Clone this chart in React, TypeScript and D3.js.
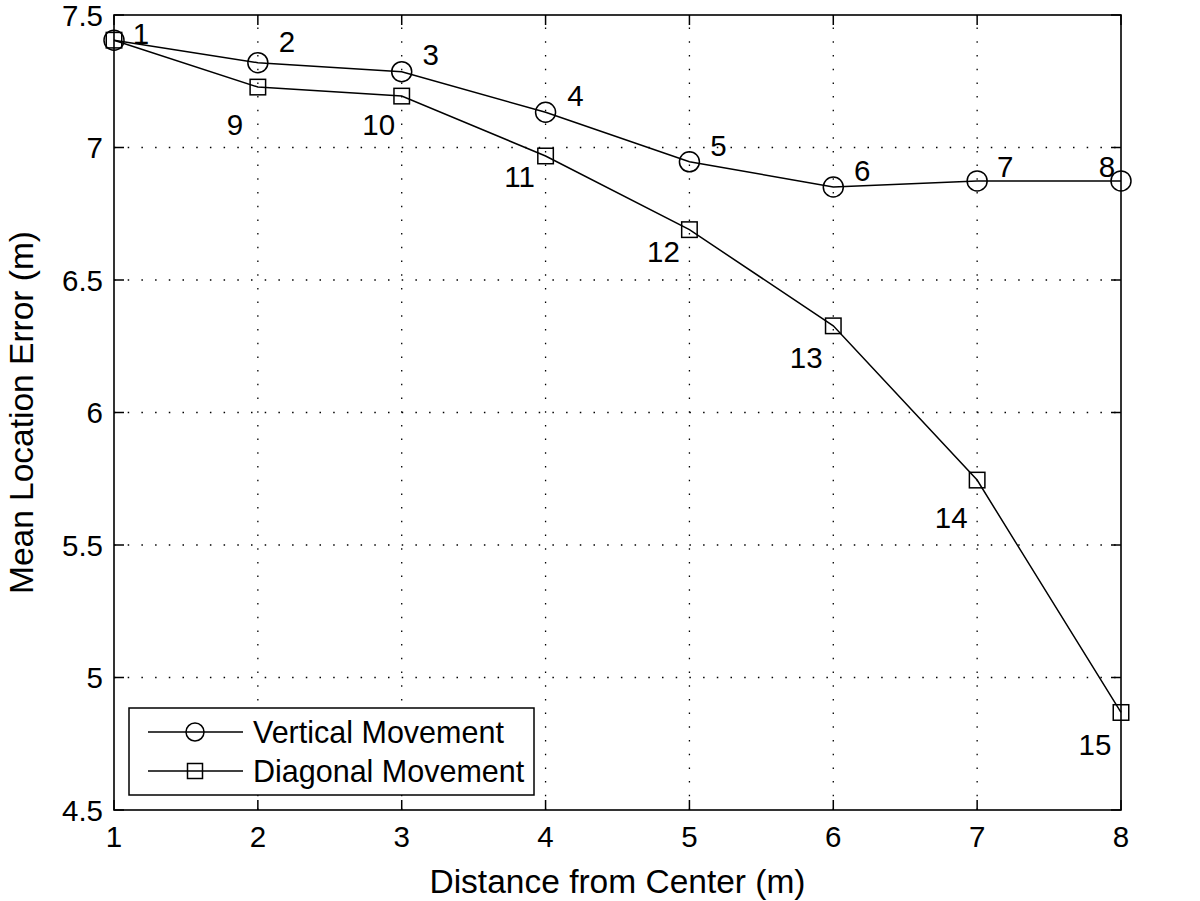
import React from "react";
import * as d3 from "d3";

const distances = [1, 2, 3, 4, 5, 6, 7, 8];
const verticalValues = [7.405, 7.32, 7.286, 7.133, 6.946, 6.851, 6.874, 6.874];
const diagonalValues = [7.405, 7.228, 7.194, 6.968, 6.69, 6.327, 5.745, 4.868];
const verticalLabels = ["1", "2", "3", "4", "5", "6", "7", "8"];
const diagonalLabels = ["", "9", "10", "11", "12", "13", "14", "15"];
const xTicks = [1, 2, 3, 4, 5, 6, 7, 8];
const yTicks = [4.5, 5, 5.5, 6, 6.5, 7, 7.5];
const seriesNames = ["Vertical Movement", "Diagonal Movement"];

// label offsets (style)
const vOffsets: [number, number][] = [[27, -7], [29, -21], [29, -17], [30, -17], [29, -16], [29, -17], [28, -15], [-14, -15]];
const dOffsets: [number, number][] = [[0, 0], [-23, 37], [-23, 28], [-26, 20], [-26, 22], [-27, 32], [-26, 37], [-26, 32]];

const FONT = "'Liberation Sans', Arial, Helvetica, sans-serif";

export default function App() {
  const W = 1200, H = 901;
  const left = 114, right = 1121, top = 15, bottom = 810;
  const x = d3.scaleLinear().domain([1, 8]).range([left, right]);
  const y = d3.scaleLinear().domain([4.5, 7.5]).range([bottom, top]);
  const line = d3.line<number>().x((_, i) => x(distances[i])).y((d) => y(d));
  const tick = 10;
  const sq = 15.5;
  const r = 10;

  return (
    <svg width={W} height={H} style={{ position: "absolute", left: 0, top: 0, background: "#fff" }} fontFamily={FONT}>
      <rect x={0} y={0} width={W} height={H} fill="#fff" />
      {/* grid */}
      {xTicks.slice(1, -1).map((t) => (
        <line key={"gx" + t} x1={x(t)} x2={x(t)} y1={bottom} y2={top} stroke="#000" strokeWidth={1.3} strokeDasharray="1.5 12.2" />
      ))}
      {yTicks.slice(1, -1).map((t) => (
        <line key={"gy" + t} x1={left} x2={right} y1={y(t)} y2={y(t)} stroke="#000" strokeWidth={1.3} strokeDasharray="1.5 12.2" />
      ))}
      {/* ticks */}
      {xTicks.map((t) => (
        <g key={"tx" + t}>
          <line x1={x(t)} x2={x(t)} y1={bottom} y2={bottom - tick} stroke="#000" strokeWidth={1.5} />
          <line x1={x(t)} x2={x(t)} y1={top} y2={top + tick} stroke="#000" strokeWidth={1.5} />
          <text x={x(t)} y={847} fontSize={29.5} textAnchor="middle">{t}</text>
        </g>
      ))}
      {yTicks.map((t) => (
        <g key={"ty" + t}>
          <line x1={left} x2={left + tick} y1={y(t)} y2={y(t)} stroke="#000" strokeWidth={1.5} />
          <line x1={right} x2={right - tick} y1={y(t)} y2={y(t)} stroke="#000" strokeWidth={1.5} />
          <text x={103} y={y(t)} dy="0.36em" fontSize={29.5} textAnchor="end">{t}</text>
        </g>
      ))}
      {/* box */}
      <rect x={left} y={top} width={right - left} height={bottom - top} fill="none" stroke="#000" strokeWidth={1.6} />
      {/* lines */}
      <path d={line(verticalValues) || ""} fill="none" stroke="#000" strokeWidth={1.5} />
      <path d={line(diagonalValues) || ""} fill="none" stroke="#000" strokeWidth={1.5} />
      {verticalValues.map((v, i) => (
        <circle key={"vc" + i} cx={x(distances[i])} cy={y(v)} r={r} fill="none" stroke="#000" strokeWidth={1.5} />
      ))}
      {diagonalValues.map((v, i) => (
        <rect key={"ds" + i} x={x(distances[i]) - sq / 2} y={y(v) - sq / 2} width={sq} height={sq} fill="none" stroke="#000" strokeWidth={1.5} />
      ))}
      {verticalValues.map((v, i) => (
        <text key={"vl" + i} x={x(distances[i]) + vOffsets[i][0]} y={y(v) + vOffsets[i][1]} dy="0.36em" fontSize={29.5} textAnchor="middle">{verticalLabels[i]}</text>
      ))}
      {diagonalValues.map((v, i) =>
        diagonalLabels[i] ? (
          <text key={"dl" + i} x={x(distances[i]) + dOffsets[i][0]} y={y(v) + dOffsets[i][1]} dy="0.36em" fontSize={29.5} textAnchor="middle">{diagonalLabels[i]}</text>
        ) : null
      )}
      {/* legend */}
      <rect x={129} y={708} width={405} height={87} fill="#fff" stroke="#000" strokeWidth={1.5} />
      <line x1={148} x2={243} y1={732} y2={732} stroke="#000" strokeWidth={1.5} />
      <circle cx={195} cy={732} r={9} fill="none" stroke="#000" strokeWidth={1.5} />
      <text x={253} y={743} fontSize={30.5}>{seriesNames[0]}</text>
      <line x1={148} x2={243} y1={771} y2={771} stroke="#000" strokeWidth={1.5} />
      <rect x={195 - 7.5} y={771 - 7.5} width={15} height={15} fill="none" stroke="#000" strokeWidth={1.5} />
      <text x={253} y={782} fontSize={30.5}>{seriesNames[1]}</text>
      {/* axis labels */}
      <text x={(left + right) / 2} y={893} fontSize={33.5} textAnchor="middle">Distance from Center (m)</text>
      <text transform={`translate(33, ${(top + bottom) / 2}) rotate(-90)`} fontSize={33.5} textAnchor="middle">Mean Location Error (m)</text>
    </svg>
  );
}
